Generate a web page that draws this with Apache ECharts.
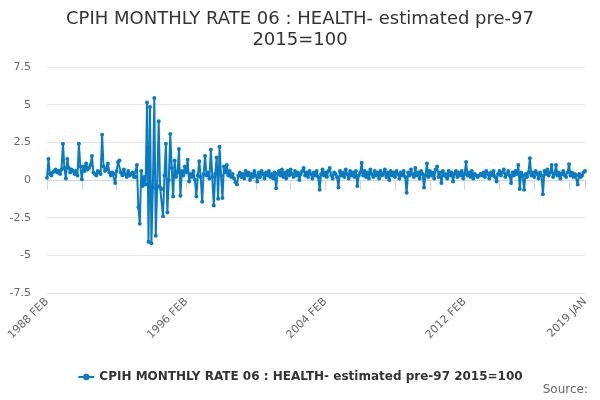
<!DOCTYPE html>
<html lang="en">
<head>
    <meta charset="UTF-8">
    <title>CPIH MONTHLY RATE 06 : HEALTH- estimated pre-97</title>
    <script src="https://cdn.jsdelivr.net/npm/echarts@6/dist/echarts.min.js"></script>
    <style>
        html, body { margin: 0; padding: 0; background: #fff; }
        #chart { width: 600px; height: 400px; }
    </style>
</head>
<body>
    <div id="chart"></div>
    <script type="text/javascript">
        // series name and the first month of the series
        var seriesName = 'CPIH MONTHLY RATE 06 : HEALTH- estimated pre-97 2015=100';
        var startYear = 1988;
        var startMonth = 1; // 0 = JAN, so 1 = FEB
        var monthNames = ['JAN', 'FEB', 'MAR', 'APR', 'MAY', 'JUN', 'JUL', 'AUG', 'SEP', 'OCT', 'NOV', 'DEC'];

        // monthly rate, one row per twelve months (FEB .. JAN)
        var rates = [
            0.15, 1.4, 0.4, 0.3, 0.5, 0.6, 0.7, 0.5, 0.6, 0.4, 0.7, 2.4,
            0.8, 0.1, 1.4, 0.8, 0.5, 0.7, 0.6, 0.4, 0.6, 0.3, 2.4, 0.9,
            0.05, 0.9, 0.6, 1.1, 0.7, 0.8, 1.0, 1.6, 0.5, 0.4, 0.3, 0.6,
            0.5, 0.4, 3.0, 0.9, 0.6, 0.7, 1.1, 0.5, 0.3, 0.5, 0.4, -0.2,
            0.6, 1.2, 1.3, 0.5, 0.3, 0.7, 0.4, 0.2, 0.6, 0.3, 0.4, 0.5,
            0.2, 0.2, 1.0, -1.8, -2.9, 0.6, -0.4, 0.2, -0.3, 5.15, -4.1, 4.85,
            -4.2, -0.5, 5.45, -3.7, -0.4, 3.9, -0.5, -0.6, -2.4, 0.3, 2.4, -2.15,
            0.0, 3.05, 0.8, -1.1, 1.3, 0.2, 0.5, 2.05, -1.05, 0.6, 0.3, 0.9,
            0.5, 1.35, -0.1, 0.4, 0.2, 0.6, 0.0, -1.1, 0.3, 1.25, 0.2, -1.45,
            0.4, 1.6, 0.3, 0.5, 0.1, 2.0, 0.2, -1.7, 0.4, 1.5, -1.25, 2.2,
            0.3, -1.2, 0.9, 0.5, 1.0, 0.3, 0.6, 0.2, 0.4, 0.1, -0.15, -0.3,
            0.3, 0.5, 0.2, 0.4, 0.1, 0.6, 0.3, 0.5, 0.0, 0.4, 0.2, 0.6,
            0.3, -0.1, 0.5, 0.2, 0.6, 0.4, 0.1, 0.5, 0.3, 0.6, 0.2, 0.4,
            0.1, 0.5, -0.55, 0.4, 0.6, 0.3, 0.7, 0.2, 0.5, 0.1, 0.6, 0.3,
            0.7, 0.4, 0.2, 0.6, 0.3, 0.5, 0.0, 0.4, 0.6, 0.8, 0.3, 0.5,
            0.2, 0.6, 0.4, 0.1, 0.5, 0.3, 0.6, 0.2, -0.65, 0.4, 0.7, 0.3,
            0.5, 0.2, 0.6, 0.8, 0.3, 0.1, 0.5, 0.4, 0.2, -0.5, 0.6, 0.3,
            0.5, 0.2, 0.7, 0.4, 0.1, 0.6, 0.3, 0.5, 0.2, 0.6, -0.4, 0.3,
            0.5, 1.15, 0.3, 0.6, 0.2, 0.5, 0.1, 0.7, 0.4, 0.2, 0.6, 0.3,
            0.5, 0.1, 0.6, 0.3, 0.4, 0.7, 0.2, 0.5, 0.0, 0.6, 0.3, 0.5,
            0.2, 0.6, 0.4, 0.1, 0.5, 0.3, 0.6, 0.2, -0.85, 0.5, 0.3, 0.7,
            0.4, 0.2, 0.8, 0.3, 0.5, 0.1, 0.6, 0.4, -0.5, 0.3, 1.1, 0.2,
            0.6, 0.3, 0.5, 0.1, 0.7, 0.9, 0.2, 0.5, -0.2, 0.6, 0.3, 0.4,
            0.1, 0.6, 0.3, 0.5, -0.1, 0.4, 0.6, 0.2, 0.5, 0.3, 0.6, 0.1,
            0.4, 1.2, 0.3, 0.5, 0.2, 0.6, 0.1, 0.4, 0.3, 0.2, 0.3, 0.4,
            0.3, 0.5, 0.2, 0.6, 0.4, 0.1, 0.5, 0.3, 0.6, 0.2, -0.1, 0.4,
            0.6, 0.3, 0.5, 0.7, 0.2, 0.4, 0.6, 0.3, -0.2, 0.5, 0.3, 0.6,
            0.4, 1.0, -0.6, 0.5, 0.3, -0.65, 0.4, 0.2, 0.5, 1.45, 0.3, 0.5,
            0.2, 0.6, 0.4, 0.1, 0.5, 0.3, -0.95, 0.6, 0.4, 0.7, 0.3, 0.5,
            1.0, 0.2, 0.4, 1.0, 0.3, 0.5, 0.1, 0.4, 0.6, 0.3, 0.2, 0.5,
            1.05, 0.3, 0.5, 0.2, 0.4, 0.3, -0.3, 0.4, 0.2, 0.3, 0.5, 0.6
        ];

        // y axis ticks
        var yMin = -7.5;
        var yMax = 7.5;
        var yStep = 2.5;

        // month labels: "1988 FEB" .. "2019 JAN"
        var months = [];
        for (var i = 0; i < rates.length; i++) {
            var m = startMonth + i;
            months.push((startYear + Math.floor(m / 12)) + ' ' + monthNames[m % 12]);
        }
        var last = months.length - 1;

        var font = 'DejaVu Sans, sans-serif';
        var myChart = echarts.init(document.getElementById('chart'));

        var option = {
            animation: false,
            title: {
                text: 'CPIH MONTHLY RATE 06 : HEALTH- estimated pre-97\n2015=100',
                left: 'center',
                top: 4,
                textStyle: {
                    color: '#333333',
                    fontSize: 18,
                    fontWeight: 'normal',
                    fontFamily: font,
                    lineHeight: 21
                }
            },
            legend: {
                top: 366,
                left: 'center',
                itemWidth: 16,
                itemHeight: 8,
                itemGap: 5,
                textStyle: {
                    color: '#333333',
                    fontSize: 12,
                    fontWeight: 'bold',
                    fontFamily: font
                },
                data: [seriesName]
            },
            graphic: [{
                type: 'text',
                right: 12,
                top: 384,
                style: {
                    text: 'Source:',
                    fill: '#666666',
                    fontSize: 12,
                    fontFamily: font
                }
            }],
            grid: {
                left: 47,
                right: 15,
                top: 67,
                bottom: 107
            },
            xAxis: {
                type: 'category',
                boundaryGap: false,
                data: months,
                axisLine: { lineStyle: { color: '#ccd6eb' } },
                axisTick: {
                    interval: function (index) { return index % 24 === 0 || index === last; },
                    length: 10,
                    lineStyle: { color: '#ccd6eb' }
                },
                axisLabel: {
                    interval: function (index) { return index % 96 === 0 || index === last; },
                    rotate: 45,
                    margin: 7,
                    color: '#666666',
                    fontSize: 11,
                    fontFamily: font
                },
                splitLine: { show: false }
            },
            yAxis: {
                type: 'value',
                min: yMin,
                max: yMax,
                interval: yStep,
                axisLine: { show: false },
                axisTick: { show: false },
                axisLabel: {
                    margin: 16,
                    color: '#666666',
                    fontSize: 11,
                    fontFamily: font
                },
                splitLine: { lineStyle: { color: '#e6e6e6' } }
            },
            series: [
                {
                    name: seriesName,
                    type: 'line',
                    data: rates,
                    symbol: 'circle',
                    symbolSize: 4,
                    showAllSymbol: true,
                    color: '#0b7bc1',
                    lineStyle: { width: 2, color: '#0b7bc1' },
                    itemStyle: { color: '#0b7bc1' }
                }
            ]
        };

        myChart.setOption(option);
    </script>
</body>
</html>
